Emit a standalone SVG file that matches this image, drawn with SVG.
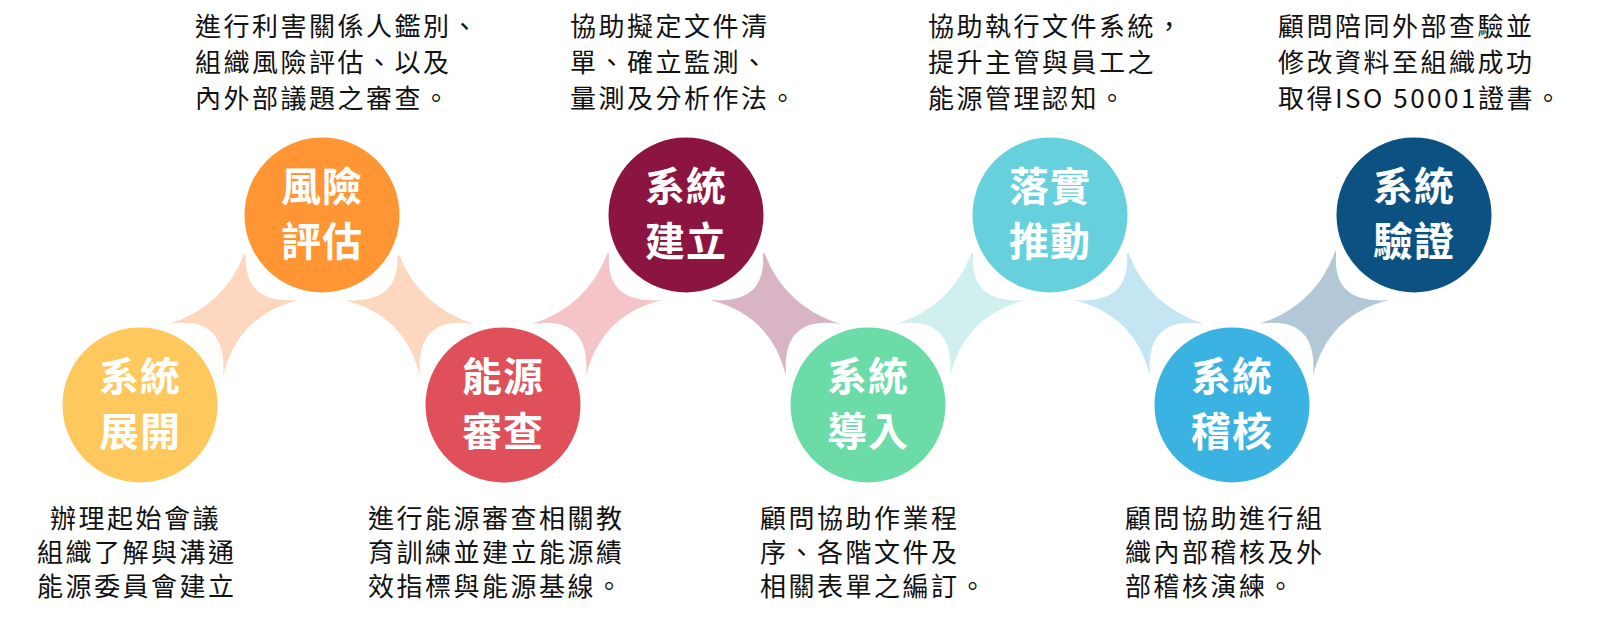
<svg xmlns="http://www.w3.org/2000/svg" width="1600" height="636" viewBox="0 0 1600 636">
<style>
.c{stroke:#fff;stroke-width:9}
.l{font-family:"Noto Sans CJK TC","Noto Sans CJK SC",sans-serif;font-size:40px;font-weight:bold;fill:#fff;text-anchor:middle;letter-spacing:1px}
.d{font-family:"Noto Sans CJK TC","Noto Sans CJK SC",sans-serif;font-size:26px;fill:#111;letter-spacing:2.5px}
</style>
<rect width="1600" height="636" fill="#fff"/>
<defs>
<path id="su" d="M14,-64 Q5,-5 66,-10 Q5,5 -10,66 Q-5,5 -64,14 Q-5,-5 14,-64Z"/>
<path id="sd" d="M-14,-64 Q-5,-5 -66,-10 Q-5,5 10,66 Q5,5 64,14 Q5,-5 -14,-64Z"/>
</defs>
<g id="connectors">
<use href="#su" x="233" y="310" fill="#FDD8BF"/>
<use href="#sd" x="410" y="310" fill="#FDD8BF"/>
<use href="#su" x="596" y="310" fill="#F5C4C8"/>
<use href="#sd" x="776" y="310" fill="#D8B4C4"/>
<use href="#su" x="960" y="310" fill="#CFF0EF"/>
<use href="#sd" x="1140" y="310" fill="#C4E6F2"/>
<use href="#su" x="1323" y="310" fill="#B3C8D6"/>
</g>
<g id="n1"><circle class="c" cx="140" cy="405" r="82" fill="#FFC85C"/><text class="l" x="140" y="391">系統</text><text class="l" x="140" y="446">展開</text></g>
<g id="n2"><circle class="c" cx="322" cy="215" r="82" fill="#FF9633"/><text class="l" x="322" y="201">風險</text><text class="l" x="322" y="256">評估</text></g>
<g id="n3"><circle class="c" cx="503" cy="405" r="82" fill="#E0505A"/><text class="l" x="503" y="391">能源</text><text class="l" x="503" y="446">審查</text></g>
<g id="n4"><circle class="c" cx="686" cy="215" r="82" fill="#8B1540"/><text class="l" x="686" y="201">系統</text><text class="l" x="686" y="256">建立</text></g>
<g id="n5"><circle class="c" cx="868" cy="405" r="82" fill="#6BDBA8"/><text class="l" x="868" y="391">系統</text><text class="l" x="868" y="446">導入</text></g>
<g id="n6"><circle class="c" cx="1050" cy="215" r="82" fill="#66D1DC"/><text class="l" x="1050" y="201">落實</text><text class="l" x="1050" y="256">推動</text></g>
<g id="n7"><circle class="c" cx="1232" cy="405" r="82" fill="#3AB3E3"/><text class="l" x="1232" y="391">系統</text><text class="l" x="1232" y="446">稽核</text></g>
<g id="n8"><circle class="c" cx="1414" cy="215" r="82" fill="#0B5282"/><text class="l" x="1414" y="201">系統</text><text class="l" x="1414" y="256">驗證</text></g>
<g id="texts">
<text class="d" x="195" y="36">進行利害關係人鑑別、</text><text class="d" x="195" y="72">組織風險評估、以及</text><text class="d" x="195" y="108">內外部議題之審查。</text>
<text class="d" x="570" y="36">協助擬定文件清</text><text class="d" x="570" y="72">單、確立監測、</text><text class="d" x="570" y="108">量測及分析作法。</text>
<text class="d" x="928" y="36">協助執行文件系統，</text><text class="d" x="928" y="72">提升主管與員工之</text><text class="d" x="928" y="108">能源管理認知。</text>
<text class="d" x="1278" y="36">顧問陪同外部查驗並</text><text class="d" x="1278" y="72">修改資料至組織成功</text><text class="d" x="1278" y="108">取得ISO 50001證書。</text>
<text class="d" x="50" y="528">辦理起始會議</text><text class="d" x="37" y="562">組織了解與溝通</text><text class="d" x="37" y="596">能源委員會建立</text>
<text class="d" x="368" y="528">進行能源審查相關教</text><text class="d" x="368" y="562">育訓練並建立能源績</text><text class="d" x="368" y="596">效指標與能源基線。</text>
<text class="d" x="760" y="528">顧問協助作業程</text><text class="d" x="760" y="562">序、各階文件及</text><text class="d" x="760" y="596">相關表單之編訂。</text>
<text class="d" x="1125" y="528">顧問協助進行組</text><text class="d" x="1125" y="562">織內部稽核及外</text><text class="d" x="1125" y="596">部稽核演練。</text>
</g>
</svg>
